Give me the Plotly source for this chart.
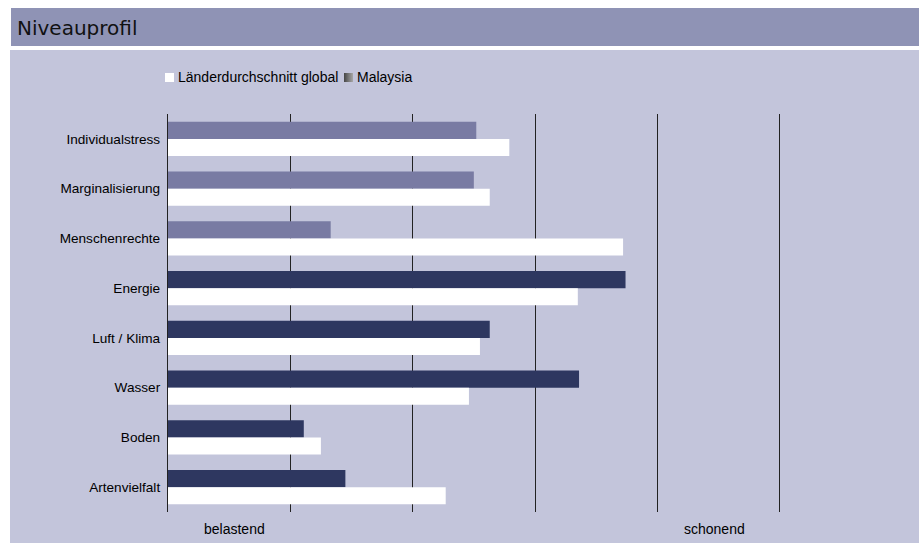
import plotly.graph_objects as go

categories = ["Individualstress", "Marginalisierung", "Menschenrechte", "Energie",
              "Luft / Klima", "Wasser", "Boden", "Artenvielfalt"]
malaysia = [2.52, 2.50, 1.33, 3.74, 2.63, 3.36, 1.11, 1.45]
global_avg = [2.79, 2.63, 3.72, 3.35, 2.55, 2.46, 1.25, 2.27]
malaysia_colors = ["#797BA3", "#797BA3", "#797BA3", "#2E3760",
                   "#2E3760", "#2E3760", "#2E3760", "#2E3760"]
legend_names = ["Länderdurchschnitt global", "Malaysia"]
bottom_labels = ["belastend", "schonend"]
title_text = "Niveauprofil"

W, H = 923, 543
L, R, T, B = 168, 21, 114, 31
PW = W - L - R
PH = H - T - B


def px(xp):
    return (xp - L) / PW


def py(yp):
    return (H - B - yp) / PH


fig = go.Figure()
fig.add_trace(go.Bar(
    y=categories, x=malaysia, orientation="h", name=legend_names[1],
    marker=dict(color=malaysia_colors, line=dict(width=0)), showlegend=False,
))
fig.add_trace(go.Bar(
    y=categories, x=global_avg, orientation="h", name=legend_names[0],
    marker=dict(color="#FFFFFF", line=dict(width=0)), showlegend=False,
))

shapes = [
    # title bar
    dict(type="rect", xref="paper", yref="paper", x0=px(11), x1=px(919), y0=py(46), y1=py(8),
         fillcolor="#8F93B5", line=dict(width=0), layer="below"),
    # panel
    dict(type="rect", xref="paper", yref="paper", x0=px(10), x1=px(919), y0=py(545), y1=py(50),
         fillcolor="#C3C5DB", line=dict(width=0), layer="below"),
    # legend swatch global
    dict(type="rect", xref="paper", yref="paper", x0=px(165), x1=px(174), y0=py(82), y1=py(73),
         fillcolor="#FFFFFF", line=dict(width=0), layer="above"),
]
# gradient swatch for Malaysia
grad = ["#4a4a4a", "#555555", "#606060", "#6b6b6b", "#767676", "#818181", "#8c8c8c", "#979797", "#a2a2a2"]
for i, c in enumerate(grad):
    shapes.append(dict(type="rect", xref="paper", yref="paper", x0=px(344 + i), x1=px(345 + i),
                       y0=py(82), y1=py(73), fillcolor=c, line=dict(width=0), layer="above"))

font_main = "Liberation Sans, Arial, sans-serif"
annotations = [
    dict(text=title_text, xref="paper", yref="paper", x=px(15), y=py(28), xanchor="left",
         yanchor="middle", showarrow=False, font=dict(family="DejaVu Sans", size=20, color="#111111")),
    dict(text=legend_names[0], xref="paper", yref="paper", x=px(176), y=py(77), xanchor="left",
         yanchor="middle", showarrow=False, font=dict(family=font_main, size=14, color="#000000")),
    dict(text=legend_names[1], xref="paper", yref="paper", x=px(355), y=py(77), xanchor="left",
         yanchor="middle", showarrow=False, font=dict(family=font_main, size=14, color="#000000")),
    dict(text=bottom_labels[0], xref="paper", yref="paper", x=px(234), y=py(529), xanchor="center",
         yanchor="middle", showarrow=False, font=dict(family=font_main, size=14, color="#000000")),
    dict(text=bottom_labels[1], xref="paper", yref="paper", x=px(714), y=py(529), xanchor="center",
         yanchor="middle", showarrow=False, font=dict(family=font_main, size=14, color="#000000")),
]

fig.update_layout(
    width=W, height=H,
    margin=dict(l=L, r=R, t=T, b=B, pad=0),
    paper_bgcolor="#FFFFFF",
    plot_bgcolor="rgba(0,0,0,0)",
    barmode="group",
    bargap=0.316,
    bargroupgap=0,
    showlegend=False,
    shapes=shapes,
    annotations=annotations,
    font=dict(family=font_main, size=14, color="#000000"),
    xaxis=dict(range=[0, 6], tickvals=[1, 2, 3, 4, 5], showticklabels=False, showgrid=True,
               gridcolor="#222222", gridwidth=1.2, zeroline=False, showline=False, ticks=""),
    yaxis=dict(autorange="reversed", showline=True, linecolor="#222222", linewidth=1.2,
               showgrid=False, zeroline=False, ticks="outside", ticklen=4, tickcolor="rgba(0,0,0,0)",
               tickfont=dict(family=font_main, size=13.6, color="#000000")),
)

fig.write_html("out.html")
